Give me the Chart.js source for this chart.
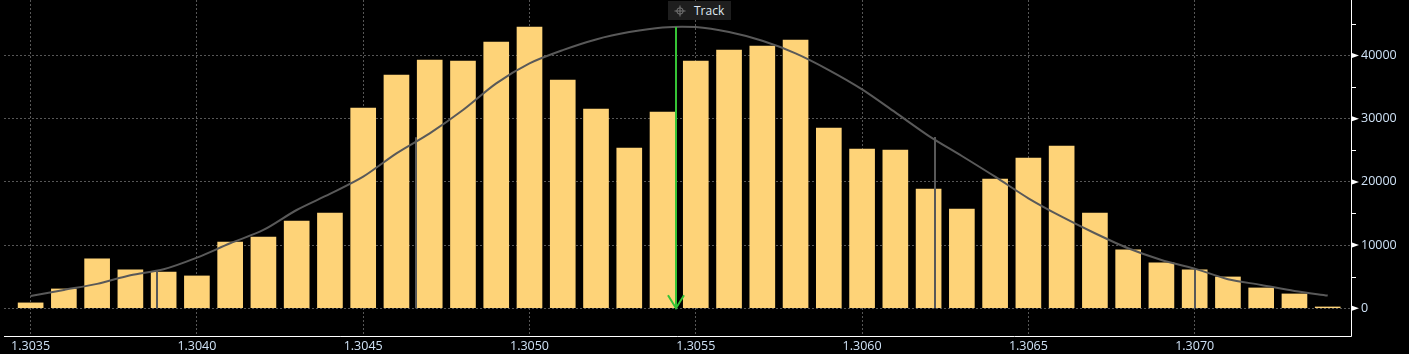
<!DOCTYPE html>
<html>
<head>
<meta charset="utf-8">
<script src="https://cdn.jsdelivr.net/npm/chart.js@4/dist/chart.umd.min.js"></script>
<style>
  html, body { margin: 0; padding: 0; background: #000; overflow: hidden; }
  #wrap { position: relative; width: 1409px; height: 354px; }
  #track {
    position: absolute; left: 668px; top: 1px; width: 63px; height: 19px;
    background: #1e1e1e; color: #dfe6ef; font: 12px "Open Sans", sans-serif;
    line-height: 19px; box-sizing: border-box; padding-left: 26px;
  }
  #track svg { position: absolute; left: 6px; top: 4px; }
</style>
</head>
<body>
<div id="wrap">
  <canvas id="c" width="1409" height="354"></canvas>
  <div id="track"><svg width="12" height="12" viewBox="0 0 12 12"><circle cx="6" cy="6" r="3.2" fill="none" stroke="#777" stroke-width="1"/><path d="M6 0.5V11.5M0.5 6H11.5" stroke="#777" stroke-width="1"/></svg>Track</div>
</div>
<script>
// ---- data ----
const priceLevels = [1.3035,1.3036,1.3037,1.3038,1.3039,1.3040,1.3041,1.3042,1.3043,1.3044,
                     1.3045,1.3046,1.3047,1.3048,1.3049,1.3050,1.3051,1.3052,1.3053,1.3054,
                     1.3055,1.3056,1.3057,1.3058,1.3059,1.3060,1.3061,1.3062,1.3063,1.3064,
                     1.3065,1.3066,1.3067,1.3068,1.3069,1.3070,1.3071,1.3072,1.3073,1.3074];
const volumes = [840,3050,7800,6060,5740,5110,10490,11280,13810,15080,
                 31690,36910,39290,39130,42140,44510,36120,31530,25360,31060,
                 39130,40870,41500,42450,28530,25210,25050,18880,15710,20460,
                 23780,25680,15080,9230,7170,6060,4950,3210,2260,200];
const curveValues = [1950,2900,3850,5220,6170,8010,10280,12390,15550,18090,
                     20820,24520,27690,31380,35600,38770,40870,42560,43720,44460,
                     44510,43720,42340,40350,37710,34650,31000,27300,24100,20820,
                     17400,14490,11870,9490,7640,6270,4590,3690,2740,2000];
const sigmaLevels = [1.30388, 1.30466, 1.30622, 1.30700];
const sigmaHeights = [5950, 27050, 27100, 6270];
const meanLevel = 1.30544;
const meanHeight = 44510;
const xTicks = [1.3035,1.3040,1.3045,1.3050,1.3055,1.3060,1.3065,1.3070];
const yTicks = [0,10000,20000,30000,40000];
const yMinorTicks = [5000,15000,25000,35000,45000];

const barData = priceLevels.map((p,i)=>({x:p, y:volumes[i]}));
const curveData = priceLevels.map((p,i)=>({x:p, y:curveValues[i]}));

const gridColor = '#565656';
const labelColor = '#cfe2f6';
const labelFont = { family: '"Open Sans", sans-serif', size: 12.5 };

const overlay = {
  id: 'overlay',
  afterDatasetsDraw(chart) {
    const {ctx, scales:{x, y}} = chart;
    ctx.save();
    ctx.strokeStyle = '#585858';
    ctx.lineWidth = 2;
    sigmaLevels.forEach((lv, i) => {
      const px = Math.round(x.getPixelForValue(lv));
      ctx.beginPath();
      ctx.moveTo(px, y.getPixelForValue(0));
      ctx.lineTo(px, y.getPixelForValue(sigmaHeights[i]));
      ctx.stroke();
    });
    const mx = Math.round(x.getPixelForValue(meanLevel));
    const y0 = y.getPixelForValue(0);
    ctx.strokeStyle = '#35c335';
    ctx.lineWidth = 2;
    ctx.beginPath();
    ctx.moveTo(mx, y.getPixelForValue(meanHeight));
    ctx.lineTo(mx, y0);
    ctx.stroke();
    ctx.beginPath();
    ctx.moveTo(mx - 8, y0 - 13);
    ctx.lineTo(mx, y0);
    ctx.lineTo(mx + 8, y0 - 13);
    ctx.stroke();
    ctx.restore();
  },
  afterDraw(chart) {
    const {ctx, chartArea, scales:{y}} = chart;
    ctx.save();
    ctx.strokeStyle = '#ffffff';
    ctx.fillStyle = '#ffffff';
    ctx.lineWidth = 1;
    ctx.beginPath();
    ctx.moveTo(chartArea.left, chartArea.bottom + 0.5);
    ctx.lineTo(chartArea.right + 0.5, chartArea.bottom + 0.5);
    ctx.moveTo(chartArea.right + 0.5, 0);
    ctx.lineTo(chartArea.right + 0.5, chartArea.bottom + 0.5);
    ctx.stroke();
    yMinorTicks.forEach(v => {
      const py = Math.round(y.getPixelForValue(v)) + 0.5;
      ctx.beginPath();
      ctx.moveTo(chartArea.right, py);
      ctx.lineTo(chartArea.right + 5, py);
      ctx.stroke();
    });
    yTicks.forEach(v => {
      const py = y.getPixelForValue(v);
      ctx.beginPath();
      ctx.moveTo(chartArea.right + 1, py - 2.5);
      ctx.lineTo(chartArea.right + 8, py);
      ctx.lineTo(chartArea.right + 1, py + 2.5);
      ctx.closePath();
      ctx.fill();
    });
    ctx.restore();
  }
};

new Chart(document.getElementById('c'), {
  type: 'bar',
  data: {
    datasets: [
      { type: 'line', data: curveData, borderColor: '#595959', borderWidth: 2,
        pointRadius: 0, tension: 0.3, order: 1 },
      { type: 'bar', data: barData, backgroundColor: '#fed378', borderWidth: 0,
        barThickness: 25, order: 2 }
    ]
  },
  options: {
    responsive: false,
    animation: false,
    events: [],
    layout: { padding: { left: 4, top: 0, right: 0, bottom: 0 } },
    plugins: { legend: { display: false }, tooltip: { enabled: false } },
    scales: {
      x: {
        type: 'linear', position: 'bottom', min: 1.30342, max: 1.30747, offset: false,
        afterBuildTicks: a => { a.ticks = xTicks.map(v => ({value: v})); },
        afterFit: a => { a.height = 18; a.paddingLeft = 0; a.paddingRight = 0; a.paddingTop = 0; a.paddingBottom = 0; },
        grid: { color: gridColor, lineWidth: 1, drawTicks: false, offset: false },
        border: { display: false, dash: [2, 2] },
        ticks: { color: labelColor, font: labelFont, padding: 3, maxRotation: 0,
                 autoSkip: false, callback: v => Number(v).toFixed(4) }
      },
      y: {
        type: 'linear', position: 'right', min: -4400, max: 48800,
        afterBuildTicks: a => { a.ticks = yTicks.map(v => ({value: v})); },
        afterFit: a => { a.width = 58; a.paddingTop = 0; a.paddingBottom = 0; a.paddingLeft = 0; a.paddingRight = 0; },
        grid: { color: gridColor, lineWidth: 1, drawTicks: false },
        border: { display: false, dash: [2, 2] },
        ticks: { color: labelColor, font: labelFont, padding: 10,
                 callback: v => String(v) }
      }
    }
  },
  plugins: [overlay]
});
</script>
</body>
</html>
